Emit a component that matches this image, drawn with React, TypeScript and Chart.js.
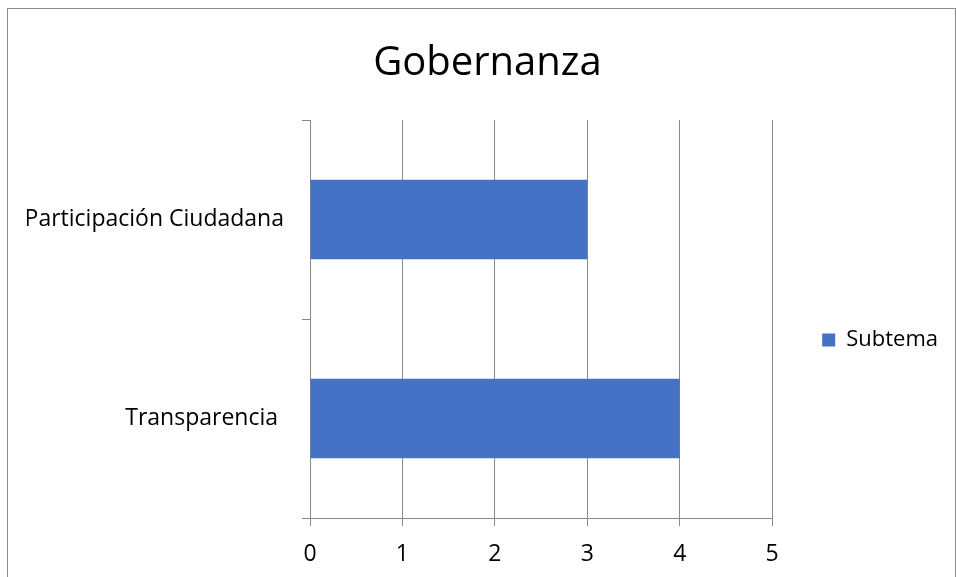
import React, { useEffect, useRef } from "react";
import { Chart, registerables } from "chart.js";

Chart.register(...registerables);

const categories = ["Participación Ciudadana", "Transparencia "];
const seriesName = "Subtema";
const seriesValues = [3, 4];
const xTicks = [0, 1, 2, 3, 4, 5];

const FONT = "'Open Sans', sans-serif";
const GRID = "#8a8a8a";

export default function App() {
  const ref = useRef<HTMLCanvasElement | null>(null);

  useEffect(() => {
    if (!ref.current) return;
    const chart = new Chart(ref.current, {
      type: "bar",
      data: {
        labels: categories,
        datasets: [
          {
            label: seriesName,
            data: seriesValues,
            backgroundColor: "#4472C4",
            borderWidth: 0,
            categoryPercentage: 0.4,
            barPercentage: 1,
          },
        ],
      },
      options: {
        indexAxis: "y",
        responsive: false,
        animation: false,
        devicePixelRatio: 1,
        layout: { padding: { left: 19, right: 7, top: 0, bottom: 1 } },
        plugins: {
          title: {
            display: true,
            text: "Gobernanza",
            color: "#000",
            font: { family: FONT, size: 40, weight: "normal", lineHeight: 1.2 },
            padding: { top: 31, bottom: 32 },
          },
          legend: {
            display: true,
            position: "right",
            fullSize: false,
            title: { display: true, text: " ", font: { size: 10 }, padding: 15 },
            labels: {
              color: "#000",
              font: { family: FONT, size: 22 },
              boxWidth: 13,
              boxHeight: 13,
              padding: 50,
            },
          },
          tooltip: { enabled: false },
        },
        scales: {
          x: {
            min: 0,
            max: 5,
            afterBuildTicks: (scale: any) => {
              scale.ticks = xTicks.map((v) => ({ value: v }));
            },
            afterFit: (scale: any) => {
              scale.height = 58;
            },
            grid: {
              color: GRID,
              lineWidth: 1,
              drawTicks: true,
              tickLength: 8,
              tickColor: GRID,
            },
            border: { display: true, color: GRID },
            ticks: {
              color: "#000",
              font: { family: FONT, size: 23 },
              padding: 15,
              maxRotation: 0,
            },
          },
          y: {
            afterFit: (scale: any) => {
              scale.width = 283;
            },
            grid: {
              display: true,
              offset: true,
              drawOnChartArea: false,
              drawTicks: true,
              tickLength: 8,
              color: GRID,
              tickColor: GRID,
            },
            border: { display: true, color: GRID },
            ticks: {
              color: "#000",
              font: { family: FONT, size: 23 },
              padding: 18,
            },
          },
        },
      },
    });
    return () => chart.destroy();
  }, []);

  return (
    <div style={{ position: "fixed", inset: 0, overflow: "hidden", background: "#fff" }}>
      <div
        style={{
          position: "absolute",
          left: 7,
          top: 8,
          width: 947,
          height: 569,
          borderTop: "1px solid #8c8c8c",
          borderLeft: "1px solid #8c8c8c",
          borderRight: "1px solid #8c8c8c",
        }}
      >
        <canvas ref={ref} width={947} height={568} style={{ display: "block", width: 947, height: 568 }} />
      </div>
    </div>
  );
}
